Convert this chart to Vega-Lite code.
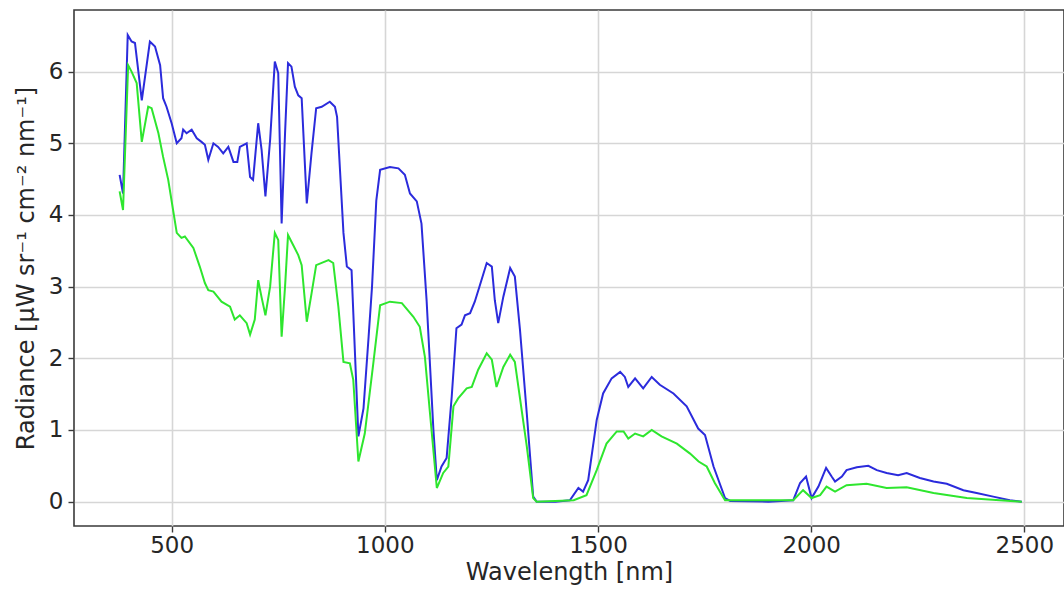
{
  "$schema": "https://vega.github.io/schema/vega-lite/v6.json",
  "width": 990,
  "height": 516,
  "autosize": {"type": "none"},
  "padding": {"left": 74, "top": 10, "right": 0, "bottom": 64},
  "background": "white",
  "config": {
    "view": {"stroke": "#3a3a3a", "strokeWidth": 1.6},
    "axis": {
      "labelFont": "DejaVu Sans", "titleFont": "DejaVu Sans",
      "labelFontSize": 23, "titleFontSize": 24, "labelColor": "#262626", "titleColor": "#262626",
      "titleFontWeight": "normal", "gridColor": "#d6d6d6", "gridWidth": 1.6,
      "domain": false, "tickColor": "#3a3a3a", "tickSize": 6, "tickWidth": 1.4
    }
  },
  "datasets": {
    "blue": [
      {"wl":378,"rad":4.56},{"wl":386,"rad":4.30},{"wl":397,"rad":6.51},{"wl":406,"rad":6.42},{"wl":414,"rad":6.40},{"wl":430,"rad":5.60},{"wl":449,"rad":6.42},{"wl":461,"rad":6.35},{"wl":473,"rad":6.09},{"wl":480,"rad":5.63},{"wl":488,"rad":5.51},{"wl":500,"rad":5.28},{"wl":512,"rad":5.00},{"wl":523,"rad":5.07},{"wl":527,"rad":5.19},{"wl":535,"rad":5.14},{"wl":547,"rad":5.19},{"wl":559,"rad":5.07},{"wl":570,"rad":5.02},{"wl":578,"rad":4.98},{"wl":586,"rad":4.77},{"wl":598,"rad":5.00},{"wl":609,"rad":4.95},{"wl":621,"rad":4.86},{"wl":633,"rad":4.95},{"wl":645,"rad":4.74},{"wl":654,"rad":4.74},{"wl":660,"rad":4.95},{"wl":676,"rad":5.00},{"wl":684,"rad":4.53},{"wl":691,"rad":4.49},{"wl":703,"rad":5.28},{"wl":711,"rad":4.91},{"wl":720,"rad":4.26},{"wl":731,"rad":5.05},{"wl":742,"rad":6.14},{"wl":750,"rad":5.98},{"wl":758,"rad":3.88},{"wl":766,"rad":5.14},{"wl":773,"rad":6.12},{"wl":781,"rad":6.07},{"wl":789,"rad":5.79},{"wl":797,"rad":5.67},{"wl":805,"rad":5.63},{"wl":817,"rad":4.16},{"wl":828,"rad":4.86},{"wl":839,"rad":5.49},{"wl":852,"rad":5.51},{"wl":871,"rad":5.58},{"wl":883,"rad":5.51},{"wl":888,"rad":5.37},{"wl":903,"rad":3.75},{"wl":911,"rad":3.28},{"wl":922,"rad":3.23},{"wl":938,"rad":0.91},{"wl":950,"rad":1.3},{"wl":962,"rad":2.3},{"wl":970,"rad":3.0},{"wl":980,"rad":4.2},{"wl":989,"rad":4.63},{"wl":1012,"rad":4.67},{"wl":1032,"rad":4.65},{"wl":1047,"rad":4.56},{"wl":1059,"rad":4.30},{"wl":1075,"rad":4.19},{"wl":1086,"rad":3.88},{"wl":1098,"rad":2.81},{"wl":1114,"rad":1.0},{"wl":1122,"rad":0.30},{"wl":1133,"rad":0.49},{"wl":1145,"rad":0.61},{"wl":1157,"rad":1.47},{"wl":1168,"rad":2.42},{"wl":1180,"rad":2.47},{"wl":1188,"rad":2.60},{"wl":1200,"rad":2.63},{"wl":1211,"rad":2.79},{"wl":1223,"rad":3.02},{"wl":1239,"rad":3.33},{"wl":1251,"rad":3.28},{"wl":1258,"rad":2.81},{"wl":1266,"rad":2.49},{"wl":1278,"rad":2.86},{"wl":1294,"rad":3.26},{"wl":1305,"rad":3.14},{"wl":1317,"rad":2.40},{"wl":1333,"rad":1.23},{"wl":1348,"rad":0.07},{"wl":1356,"rad":0.0},{"wl":1400,"rad":0.0},{"wl":1434,"rad":0.02},{"wl":1454,"rad":0.19},{"wl":1465,"rad":0.14},{"wl":1477,"rad":0.30},{"wl":1497,"rad":1.14},{"wl":1512,"rad":1.51},{"wl":1532,"rad":1.72},{"wl":1552,"rad":1.81},{"wl":1563,"rad":1.74},{"wl":1571,"rad":1.60},{"wl":1587,"rad":1.72},{"wl":1606,"rad":1.58},{"wl":1626,"rad":1.74},{"wl":1645,"rad":1.63},{"wl":1677,"rad":1.51},{"wl":1708,"rad":1.33},{"wl":1735,"rad":1.02},{"wl":1751,"rad":0.93},{"wl":1771,"rad":0.49},{"wl":1798,"rad":0.05},{"wl":1810,"rad":0.01},{"wl":1900,"rad":0.0},{"wl":1958,"rad":0.02},{"wl":1974,"rad":0.26},{"wl":1988,"rad":0.35},{"wl":2001,"rad":0.05},{"wl":2017,"rad":0.21},{"wl":2035,"rad":0.47},{"wl":2048,"rad":0.35},{"wl":2056,"rad":0.28},{"wl":2072,"rad":0.35},{"wl":2083,"rad":0.44},{"wl":2107,"rad":0.48},{"wl":2134,"rad":0.50},{"wl":2154,"rad":0.44},{"wl":2177,"rad":0.40},{"wl":2204,"rad":0.37},{"wl":2224,"rad":0.40},{"wl":2255,"rad":0.33},{"wl":2287,"rad":0.28},{"wl":2318,"rad":0.25},{"wl":2357,"rad":0.16},{"wl":2388,"rad":0.12},{"wl":2427,"rad":0.07},{"wl":2466,"rad":0.02},{"wl":2494,"rad":0.0}
    ],
    "green": [
      {"wl":378,"rad":4.33},{"wl":386,"rad":4.07},{"wl":398,"rad":6.09},{"wl":406,"rad":6.00},{"wl":418,"rad":5.84},{"wl":430,"rad":5.02},{"wl":445,"rad":5.51},{"wl":453,"rad":5.49},{"wl":469,"rad":5.14},{"wl":480,"rad":4.81},{"wl":492,"rad":4.49},{"wl":512,"rad":3.75},{"wl":523,"rad":3.68},{"wl":531,"rad":3.70},{"wl":551,"rad":3.54},{"wl":566,"rad":3.28},{"wl":578,"rad":3.05},{"wl":586,"rad":2.95},{"wl":598,"rad":2.93},{"wl":617,"rad":2.79},{"wl":637,"rad":2.72},{"wl":648,"rad":2.54},{"wl":660,"rad":2.60},{"wl":676,"rad":2.49},{"wl":684,"rad":2.33},{"wl":695,"rad":2.54},{"wl":703,"rad":3.09},{"wl":711,"rad":2.85},{"wl":720,"rad":2.60},{"wl":731,"rad":3.0},{"wl":742,"rad":3.75},{"wl":750,"rad":3.65},{"wl":758,"rad":2.30},{"wl":766,"rad":3.0},{"wl":773,"rad":3.72},{"wl":785,"rad":3.58},{"wl":797,"rad":3.44},{"wl":805,"rad":3.3},{"wl":817,"rad":2.51},{"wl":828,"rad":2.9},{"wl":839,"rad":3.30},{"wl":868,"rad":3.37},{"wl":879,"rad":3.33},{"wl":891,"rad":2.72},{"wl":903,"rad":1.95},{"wl":918,"rad":1.93},{"wl":926,"rad":1.70},{"wl":938,"rad":0.56},{"wl":953,"rad":0.95},{"wl":973,"rad":1.93},{"wl":989,"rad":2.74},{"wl":1012,"rad":2.79},{"wl":1040,"rad":2.77},{"wl":1067,"rad":2.58},{"wl":1082,"rad":2.44},{"wl":1094,"rad":2.02},{"wl":1106,"rad":1.23},{"wl":1122,"rad":0.19},{"wl":1137,"rad":0.40},{"wl":1149,"rad":0.49},{"wl":1161,"rad":1.33},{"wl":1172,"rad":1.44},{"wl":1192,"rad":1.58},{"wl":1204,"rad":1.60},{"wl":1219,"rad":1.84},{"wl":1239,"rad":2.07},{"wl":1251,"rad":1.98},{"wl":1262,"rad":1.60},{"wl":1278,"rad":1.88},{"wl":1294,"rad":2.05},{"wl":1305,"rad":1.95},{"wl":1333,"rad":0.77},{"wl":1348,"rad":0.05},{"wl":1356,"rad":0.0},{"wl":1443,"rad":0.02},{"wl":1473,"rad":0.09},{"wl":1497,"rad":0.44},{"wl":1520,"rad":0.81},{"wl":1544,"rad":0.98},{"wl":1560,"rad":0.98},{"wl":1571,"rad":0.88},{"wl":1587,"rad":0.95},{"wl":1606,"rad":0.91},{"wl":1626,"rad":1.0},{"wl":1649,"rad":0.91},{"wl":1685,"rad":0.81},{"wl":1716,"rad":0.67},{"wl":1736,"rad":0.56},{"wl":1755,"rad":0.49},{"wl":1774,"rad":0.26},{"wl":1798,"rad":0.02},{"wl":1958,"rad":0.02},{"wl":1981,"rad":0.16},{"wl":2001,"rad":0.05},{"wl":2021,"rad":0.09},{"wl":2036,"rad":0.21},{"wl":2056,"rad":0.14},{"wl":2083,"rad":0.23},{"wl":2130,"rad":0.25},{"wl":2177,"rad":0.19},{"wl":2224,"rad":0.20},{"wl":2287,"rad":0.12},{"wl":2365,"rad":0.05},{"wl":2494,"rad":0.0}
    ]
  },
  "encoding": {
    "x": {"field": "wl", "type": "quantitative", "scale": {"domain": [271, 2593], "nice": false, "zero": false},
      "axis": {"values": [500, 1000, 1500, 2000, 2500], "format": "d", "title": "Wavelength [nm]", "labelPadding": 2, "titlePadding": 3}},
    "y": {"field": "rad", "type": "quantitative", "scale": {"domain": [-0.34, 6.86], "nice": false, "zero": false},
      "axis": {"values": [0, 1, 2, 3, 4, 5, 6], "title": "Radiance [μW sr⁻¹ cm⁻² nm⁻¹]", "labelPadding": 5, "titlePadding": 10}}
  },
  "layer": [
    {"data": {"name": "blue"}, "mark": {"type": "line", "color": "#2b2bdc", "strokeWidth": 2}},
    {"data": {"name": "green"}, "mark": {"type": "line", "color": "#2ee62e", "strokeWidth": 2}}
  ]
}
